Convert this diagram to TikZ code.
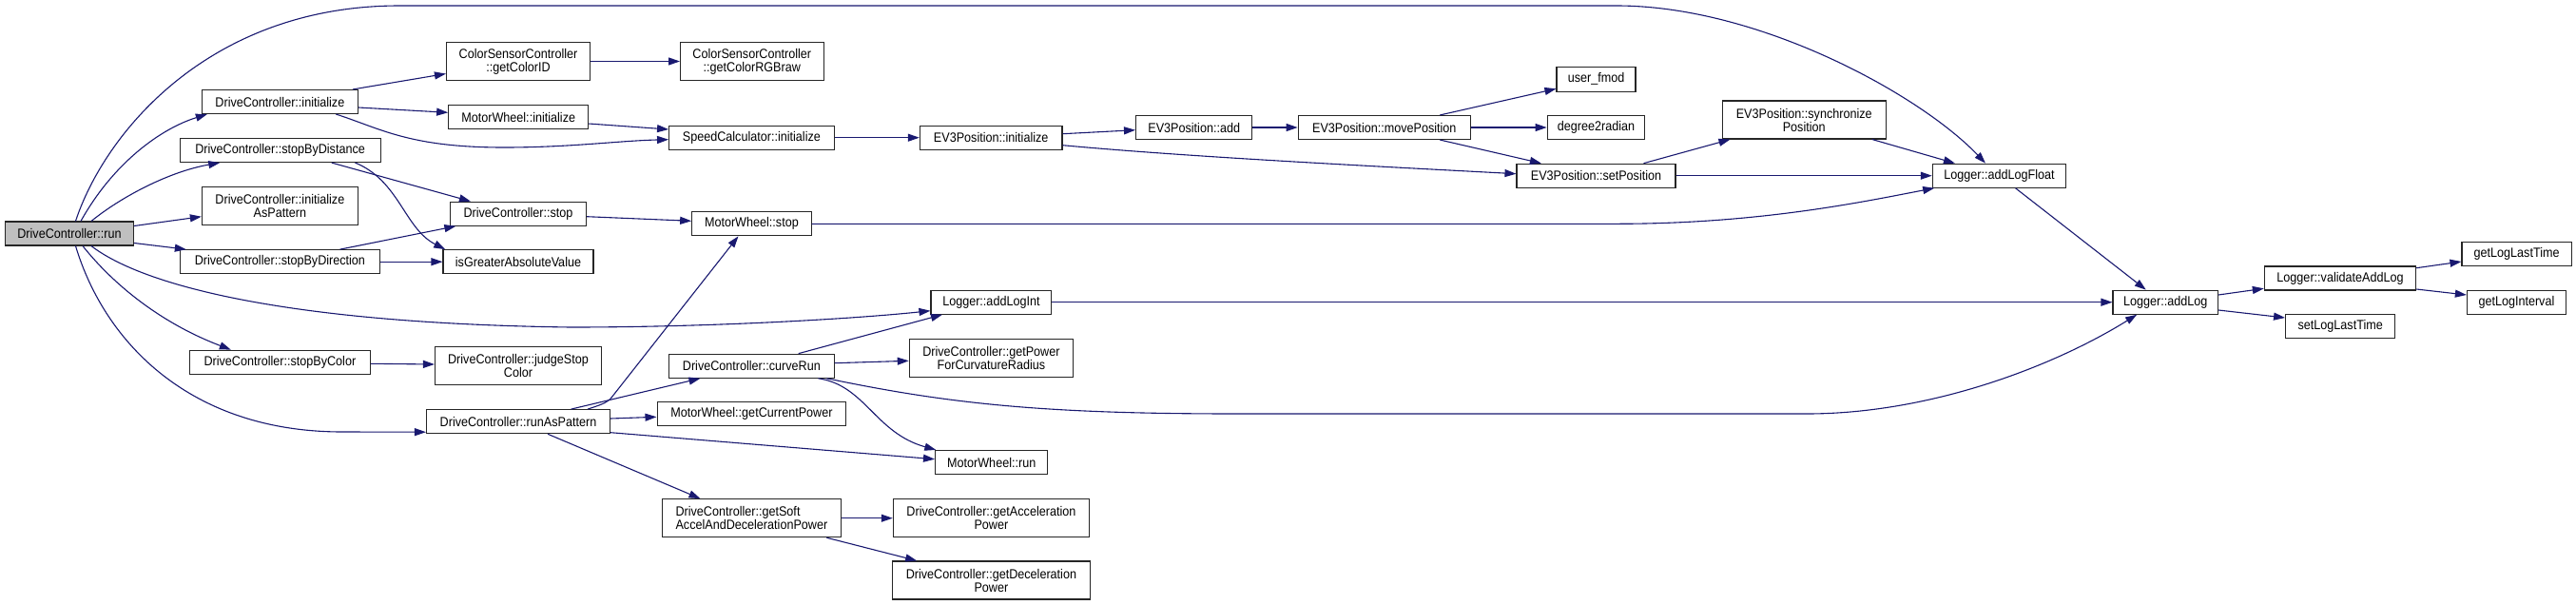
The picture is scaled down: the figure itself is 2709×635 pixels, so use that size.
\documentclass[tikz,border=0pt]{standalone}
\usepackage{fontspec}
\setmainfont{Liberation Sans}[FakeStretch=0.9]
\usetikzlibrary{arrows.meta,calc}
\definecolor{dblue}{HTML}{191970}
\definecolor{nodegray}{HTML}{BFBFBF}
\begin{document}
\begin{tikzpicture}[x=1pt,y=-1pt,
  box/.style={draw=black!85, line width=1.1pt, fill=white, inner sep=0pt, align=center,
    font=\fontsize{14}{14}\selectfont},
  edge/.style={draw=dblue, line width=1.1pt, -{Triangle[length=12pt,width=8pt]}}]
\useasboundingbox (0,0) rectangle (2709,635);
% nodes
\node[box, fill=nodegray, minimum width=135, minimum height=25] (run) at (73,245.5) {DriveController::run};
\node[box, minimum width=164, minimum height=25] (init) at (294.4,107) {DriveController::initialize};
\node[box, minimum width=151, minimum height=40] (getColorID) at (545,64.5) {ColorSensorController\\::getColorID};
\node[box, minimum width=147, minimum height=25] (mwInit) at (545.2,123.3) {MotorWheel::initialize};
\node[box, minimum width=211, minimum height=25] (stopByDist) at (294.6,158) {DriveController::stopByDistance};
\node[box, minimum width=164, minimum height=40] (initAsPat) at (294.4,216.7) {DriveController::initialize\\AsPattern};
\node[box, minimum width=143, minimum height=25] (dcStop) at (545,224.7) {DriveController::stop};
\node[box, minimum width=210, minimum height=25] (stopByDir) at (294.4,275.2) {DriveController::stopByDirection};
\node[box, minimum width=158, minimum height=25] (isGreater) at (545,275.2) {isGreaterAbsoluteValue};
\node[box, minimum width=190, minimum height=25] (stopByColor) at (294.4,380.7) {DriveController::stopByColor};
\node[box, minimum width=175, minimum height=40] (judgeStop) at (545,384.5) {DriveController::judgeStop\\Color};
\node[box, minimum width=193, minimum height=25] (runAsPat) at (545,443.2) {DriveController::runAsPattern};
\node[box, minimum width=150.5, minimum height=40] (getRGB) at (790.8,64.5) {ColorSensorController\\::getColorRGBraw};
\node[box, minimum width=173.6, minimum height=25] (speedInit) at (790.4,144.7) {SpeedCalculator::initialize};
\node[box, minimum width=149.6, minimum height=25] (ev3Init) at (1042.2,144.7) {EV3Position::initialize};
\node[box, minimum width=122.3, minimum height=25] (ev3Add) at (1255.7,134) {EV3Position::add};
\node[box, minimum width=125.4, minimum height=25] (mwStop) at (790.4,235.3) {MotorWheel::stop};
\node[box, minimum width=126.8, minimum height=25] (addLogInt) at (1042.4,317.7) {Logger::addLogInt};
\node[box, minimum width=173.6, minimum height=25] (curveRun) at (790.4,384.7) {DriveController::curveRun};
\node[box, minimum width=172.3, minimum height=40] (getPowerFor) at (1042.4,376.7) {DriveController::getPower\\ForCurvatureRadius};
\node[box, minimum width=198.7, minimum height=25] (getCurPower) at (790.4,435.3) {MotorWheel::getCurrentPower};
\node[box, minimum width=118.3, minimum height=25] (mwRun) at (1042.7,486) {MotorWheel::run};
\node[box, align=left, minimum width=188, minimum height=40] (getSoft) at (790.4,544.7) {DriveController::getSoft\\AccelAndDecelerationPower};
\node[box, minimum width=206.2, minimum height=40] (getAccel) at (1042.4,544.7) {DriveController::getAcceleration\\Power};
\node[box, minimum width=208, minimum height=40] (getDecel) at (1042.4,610) {DriveController::getDeceleration\\Power};
\node[box, minimum width=181.2, minimum height=25] (movePos) at (1455.8,134) {EV3Position::movePosition};
\node[box, minimum width=83, minimum height=25.5] (userFmod) at (1678.5,83.3) {user\_fmod};
\node[box, minimum width=102.7, minimum height=25] (deg2rad) at (1678.5,134) {degree2radian};
\node[box, minimum width=172.3, minimum height=40] (syncPos) at (1897.2,126) {EV3Position::synchronize\\Position};
\node[box, minimum width=167, minimum height=25] (setPos) at (1678.5,184.7) {EV3Position::setPosition};
\node[box, minimum width=140.4, minimum height=25] (addLogFloat) at (2102.5,184.7) {Logger::addLogFloat};
\node[box, minimum width=110.4, minimum height=25] (addLog) at (2277.2,317.7) {Logger::addLog};
\node[box, minimum width=159.3, minimum height=25] (validate) at (2461,292.5) {Logger::validateAddLog};
\node[box, minimum width=115.2, minimum height=25] (getLogLastTime) at (2646.6,267.3) {getLogLastTime};
\node[box, minimum width=104, minimum height=25] (getLogInterval) at (2646.4,317.7) {getLogInterval};
\node[box, minimum width=115.2, minimum height=25] (setLogLastTime) at (2461.2,343.3) {setLogLastTime};
% edges from run
\draw[edge] ($(run.north)+(6.5,0)$) .. controls (110,140) and (220,6) .. (420,6) -- (1700,6)
  .. controls (1850,6) and (2020,100) .. ($(addLogFloat.north)+(-14.5,0)$);
\draw[edge] ($(run.north)+(12,0)$) .. controls (120,170) and (170,135) .. ($(init.south west)+(6,0)$);
\draw[edge] ($(run.north)+(23,0)$) .. controls (130,205) and (180,180) .. ($(stopByDist.south west)+(42.7,0)$);
\draw[edge] ($(run.east)+(0,-8)$) -- ($(initAsPat.west)+(0,11)$);
\draw[edge] ($(run.east)+(0,10)$) -- ($(stopByDir.north west)+(7,0)$);
\draw[edge] ($(run.south)+(23,0)$) .. controls (150,300) and (300,340) .. (600,344)
  .. controls (750,344) and (900,335) .. ($(addLogInt.west)+(0,9)$);
\draw[edge] ($(run.south)+(14,0)$) .. controls (120,300) and (170,340) .. ($(stopByColor.north west)+(44,0)$);
\draw[edge] ($(run.south)+(6.5,0)$) .. controls (110,360) and (200,454) .. (360,454) -- ($(runAsPat.west)+(0,11)$);
% initialize
\draw[edge] ($(init.north east)+(-6,0)$) -- ($(getColorID.west)+(0,13)$);
\draw[edge] ($(init.east)+(0,6)$) -- ($(mwInit.west)+(0,-5)$);
\draw[edge] ($(init.south east)+(-23.6,0)$) .. controls (400,135) and (430,155) .. (530,155)
  .. controls (600,155) and (650,148) .. ($(speedInit.west)+(0,2)$);
\draw[edge] ($(mwInit.east)+(0,6.7)$) -- ($(speedInit.west)+(0,-8.7)$);
\draw[edge] (getColorID.east) -- (getRGB.west);
% stop functions
\draw[edge] ($(stopByDist.south east)+(-52,0)$) -- ($(dcStop.north west)+(22,0)$);
\draw[edge] ($(stopByDist.south east)+(-27.2,0)$) .. controls (420,190) and (425,240) .. ($(isGreater.north west)+(2.7,0)$);
\draw[edge] ($(stopByDir.north east)+(-42.5,0)$) -- ($(dcStop.south west)+(6.4,0)$);
\draw[edge] (stopByDir.east) -- (isGreater.west);
\draw[edge] ($(dcStop.east)+(0,3)$) -- ($(mwStop.west)+(0,-3)$);
\draw[edge] ($(stopByColor.east)+(0,1.6)$) -- ($(judgeStop.west)+(0,-1.5)$);
% runAsPattern
\draw[edge] ($(runAsPat.north)+(73,0)$) .. controls (630,426) and (638,424) .. (643,418) -- ($(mwStop.south west)+(49.3,0)$);
\draw[edge] ($(runAsPat.north)+(55.4,0)$) -- ($(curveRun.south west)+(33.4,0)$);
\draw[edge] ($(runAsPat.east)+(0,-3.2)$) -- ($(getCurPower.west)+(0,3)$);
\draw[edge] ($(runAsPat.east)+(0,11.5)$) -- ($(mwRun.west)+(0,-3.3)$);
\draw[edge] ($(runAsPat.south)+(31,0)$) -- ($(getSoft.north west)+(40.6,0)$);
% curveRun
\draw[edge] ($(curveRun.north)+(49.3,0)$) -- ($(addLogInt.south west)+(12.5,0)$);
\draw[edge] ($(curveRun.east)+(0,-3)$) -- ($(getPowerFor.west)+(0,2.6)$);
\draw[edge] ($(curveRun.south east)+(-17.4,0)$) .. controls (910,405) and (920,455) .. ($(mwRun.north west)+(1.3,0)$);
\draw[edge] ($(curveRun.south east)+(-8.4,0)$) .. controls (1000,425) and (1100,435) .. (1300,435) -- (1900,435)
  .. controls (2030,435) and (2160,385) .. ($(addLog.south west)+(25.7,0)$);
\draw[edge] (addLogInt.east) -- (addLog.west);
% getSoft
\draw[edge] (getSoft.east) -- (getAccel.west);
\draw[edge] ($(getSoft.south east)+(-15.6,0)$) -- ($(getDecel.north west)+(26.3,0)$);
% EV3 chain
\draw[edge] (speedInit.east) -- (ev3Init.west);
\draw[edge] ($(ev3Init.east)+(0,-4)$) -- ($(ev3Add.west)+(0,2.7)$);
\draw[edge] ($(ev3Init.east)+(0,8)$) .. controls (1250,165) and (1450,175) .. ($(setPos.west)+(0,-2)$);
\draw[edge] (ev3Add.east) -- (movePos.west);
\draw[edge] ($(movePos.north)+(58.5,0)$) -- ($(userFmod.west)+(0,10)$);
\draw[edge] (movePos.east) -- (deg2rad.west);
\draw[edge] ($(movePos.south)+(58.5,0)$) -- ($(setPos.north west)+(26.4,0)$);
\draw[edge] ($(setPos.north)+(50,0)$) -- ($(syncPos.south west)+(9,0)$);
\draw[edge] (setPos.east) -- (addLogFloat.west);
\draw[edge] ($(syncPos.south east)+(-15,0)$) -- ($(addLogFloat.north west)+(24.2,0)$);
\draw[edge] (mwStop.east) -- (1700,235.3) .. controls (1850,235.3) and (1960,212) .. ($(addLogFloat.south west)+(2.4,0)$);
% logger
\draw[edge] ($(addLogFloat.south)+(17,0)$) -- ($(addLog.north west)+(35.3,0)$);
\draw[edge] ($(addLog.east)+(0,-7.7)$) -- ($(validate.west)+(0,10.8)$);
\draw[edge] ($(addLog.east)+(0,8.3)$) -- ($(setLogLastTime.west)+(0,-9.3)$);
\draw[edge] ($(validate.east)+(0,-10.8)$) -- ($(getLogLastTime.west)+(0,7.7)$);
\draw[edge] ($(validate.east)+(0,11.5)$) -- ($(getLogInterval.west)+(0,-7.7)$);
\end{tikzpicture}
\end{document}
